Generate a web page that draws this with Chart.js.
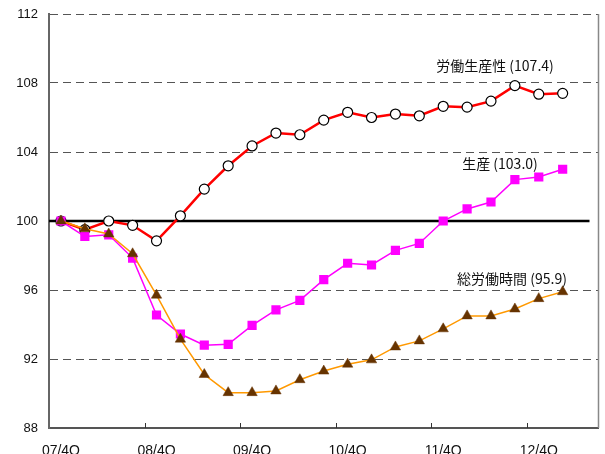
<!DOCTYPE html>
<html>
<head>
<meta charset="utf-8">
<script src="https://cdn.jsdelivr.net/npm/chart.js@4"></script>
<style>
    html, body { margin: 0; padding: 0; background: #fff; }
    #wrap { width: 605px; height: 454px; position: relative; }
</style>
</head>
<body>
<div id="wrap"><canvas id="chart"></canvas></div>
<script>
// quarters (last slot left empty, as in the original)
const quarters = ['07/4Q', '08/1Q', '08/2Q', '08/3Q', '08/4Q', '09/1Q', '09/2Q', '09/3Q',
    '09/4Q', '10/1Q', '10/2Q', '10/3Q', '10/4Q', '11/1Q', '11/2Q', '11/3Q', '11/4Q',
    '12/1Q', '12/2Q', '12/3Q', '12/4Q', '13/1Q', '13/2Q'];

// 07/4Q = 100
const productivity = [100, 99.5, 100.0, 99.75, 98.85, 100.3, 101.85, 103.2, 104.35, 105.1, 105.0,
    105.85, 106.3, 106.0, 106.2, 106.1, 106.65, 106.6, 106.95, 107.85, 107.35, 107.4];
const production = [100, 99.1, 99.2, 97.85, 94.55, 93.45, 92.8, 92.85, 93.95, 94.85, 95.4,
    96.6, 97.55, 97.45, 98.3, 98.7, 100.0, 100.7, 101.1, 102.4, 102.55, 103.0];
const hours = [100, 99.55, 99.25, 98.1, 95.7, 93.15, 91.1, 90.05, 90.05, 90.15, 90.8,
    91.3, 91.7, 91.95, 92.7, 93.05, 93.75, 94.5, 94.5, 94.9, 95.5, 95.9];

const yTicks = [88, 92, 96, 100, 104, 108, 112];

const seriesLabels = [
    { text: '労働生産性 (107.4)', x: 495, value: 109.0 },
    { text: '生産 (103.0)', x: 500, value: 103.35 },
    { text: '総労働時間 (95.9)', x: 512, value: 96.65 }
];

const frame = {
    id: 'frame',
    beforeDatasetsDraw(chart) {
        const { ctx, chartArea, scales: { x, y } } = chart;
        ctx.save();
        // base line at 100
        const y100 = y.getPixelForValue(100);
        ctx.strokeStyle = '#000';
        ctx.lineWidth = 2.5;
        ctx.beginPath();
        ctx.moveTo(chartArea.left, y100);
        ctx.lineTo(chartArea.right - 9, y100);
        ctx.stroke();
        // right frame
        ctx.strokeStyle = '#888';
        ctx.lineWidth = 1.5;
        ctx.beginPath();
        ctx.moveTo(chartArea.right, chartArea.top);
        ctx.lineTo(chartArea.right, chartArea.bottom);
        ctx.stroke();
        // inward tick marks every 4 quarters
        const half = (x.getPixelForValue(1) - x.getPixelForValue(0)) / 2;
        ctx.strokeStyle = '#333';
        ctx.lineWidth = 1;
        for (let i = 4; i < quarters.length; i += 4) {
            const px = Math.round(x.getPixelForValue(i) - half) + 0.5;
            ctx.beginPath();
            ctx.moveTo(px, chartArea.bottom);
            ctx.lineTo(px, chartArea.bottom - 5);
            ctx.stroke();
        }
        ctx.restore();
    },
    afterDraw(chart) {
        const { ctx, scales: { y } } = chart;
        ctx.save();
        ctx.font = '14px "Noto Sans CJK JP"';
        ctx.fillStyle = '#111';
        ctx.textAlign = 'center';
        ctx.textBaseline = 'middle';
        seriesLabels.forEach(l => ctx.fillText(l.text, l.x, y.getPixelForValue(l.value)));
        ctx.restore();
    }
};

new Chart(document.getElementById('chart'), {
    type: 'line',
    data: {
        labels: quarters,
        datasets: [
            {
                label: '労働生産性',
                data: productivity,
                borderColor: '#ff0000',
                borderWidth: 2.5,
                pointStyle: 'circle',
                pointRadius: 5,
                pointBackgroundColor: '#fff',
                pointBorderColor: '#000',
                pointBorderWidth: 1.2,
                order: 2
            },
            {
                label: '生産',
                data: production,
                borderColor: '#ff00ff',
                borderWidth: 1.5,
                pointStyle: 'rect',
                pointRadius: 6.5,
                pointBackgroundColor: '#ff00ff',
                pointBorderColor: '#ff00ff',
                pointBorderWidth: 0,
                order: 1
            },
            {
                label: '総労働時間',
                data: hours,
                borderColor: '#ff9900',
                borderWidth: 1.5,
                pointStyle: 'triangle',
                pointRadius: 6,
                pointBackgroundColor: '#663300',
                pointBorderColor: '#663300',
                pointBorderWidth: 0.5,
                order: 0
            }
        ]
    },
    options: {
        responsive: true,
        maintainAspectRatio: false,
        animation: false,
        layout: { padding: { top: 14, right: 3, left: 0, bottom: 0 } },
        plugins: {
            legend: { display: false },
            tooltip: { enabled: false }
        },
        scales: {
            x: {
                offset: true,
                grid: { display: false },
                border: { display: true, color: '#555', width: 2 },
                ticks: {
                    autoSkip: false,
                    maxRotation: 0,
                    padding: 7,
                    color: '#111',
                    font: { family: 'Liberation Sans', size: 14 },
                    callback: (v, i) => (i % 4 === 0 ? quarters[i] : '')
                },
                afterFit: scale => { scale.height = 26; }
            },
            y: {
                min: 88,
                max: 112,
                afterBuildTicks: scale => { scale.ticks = yTicks.map(v => ({ value: v })); },
                grid: {
                    drawTicks: false,
                    lineWidth: 1,
                    color: ctx => (ctx.tick && (ctx.tick.value === 100 || ctx.tick.value === 88)) ? 'rgba(0,0,0,0)' : '#555'
                },
                border: { display: true, color: '#666', width: 2, dash: [8, 5] },
                ticks: {
                    padding: 11,
                    color: '#111',
                    font: { family: 'Liberation Sans', size: 13, lineHeight: 0.2 }
                },
                afterFit: scale => { scale.width = 49; }
            }
        }
    },
    plugins: [frame]
});
</script>
</body>
</html>
